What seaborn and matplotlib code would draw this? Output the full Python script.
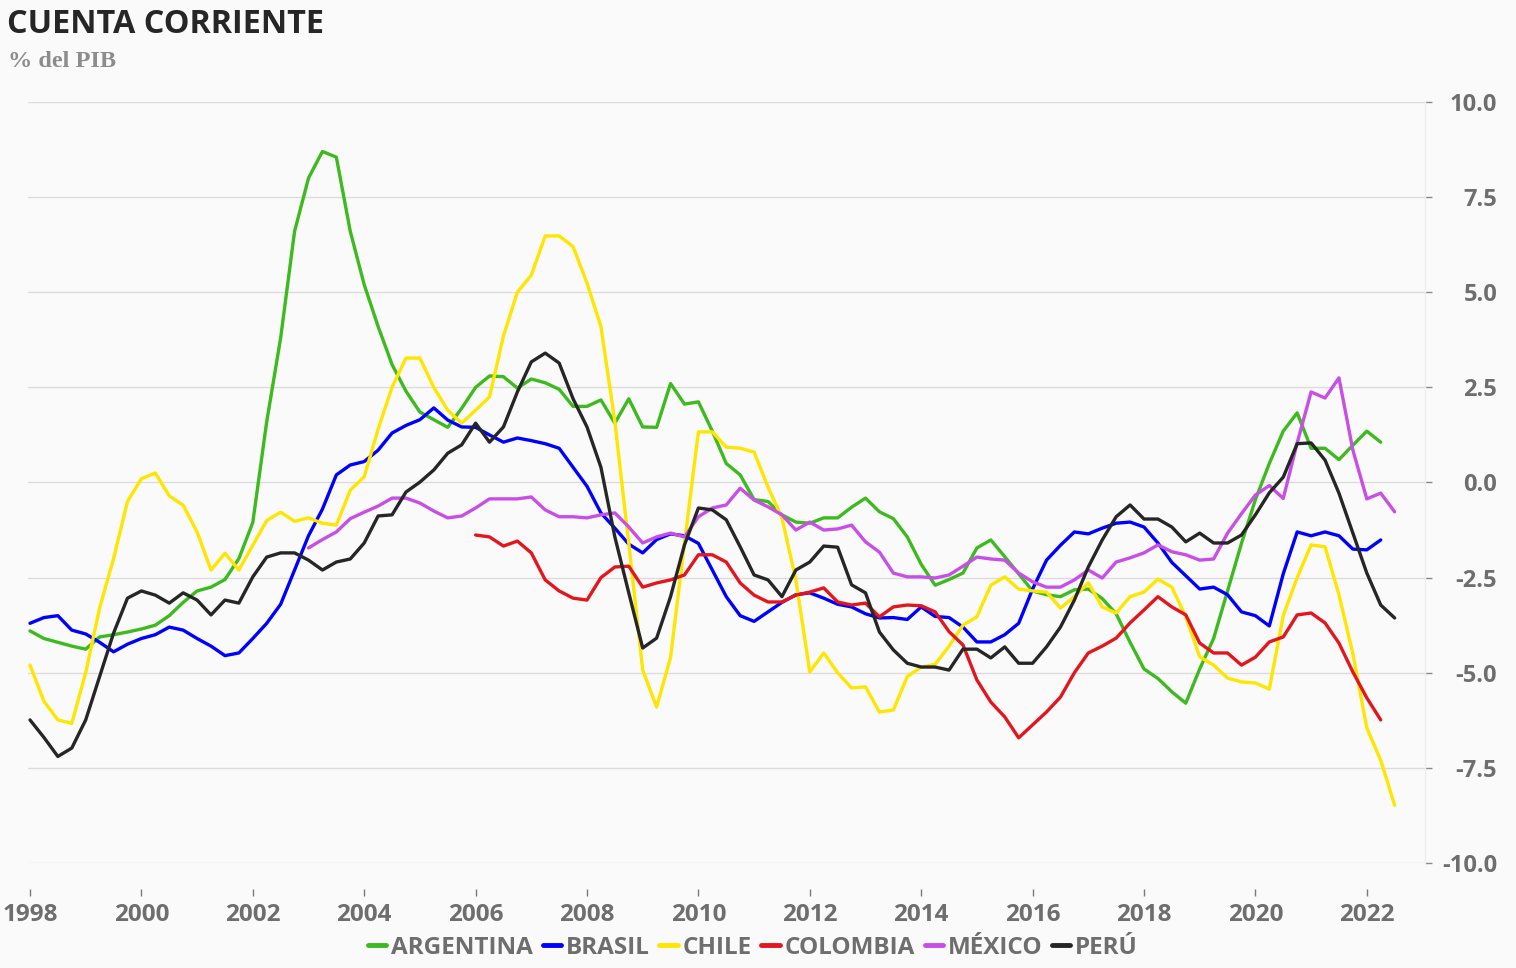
import numpy as np
import pandas as pd
import matplotlib
matplotlib.use("Agg")
import matplotlib.pyplot as plt
import seaborn as sns

# ---------------- data (quarterly, % del PIB) ----------------
countries = ["ARGENTINA", "BRASIL", "CHILE", "COLOMBIA", "MÉXICO", "PERÚ"]
colors = ["#3cba1e", "#0000ff", "#ffe600", "#e3161d", "#c84fe6", "#262626"]
first_quarter = {"ARGENTINA": 1998.0, "BRASIL": 1998.0, "CHILE": 1998.0,
                 "COLOMBIA": 2006.0, "MÉXICO": 2003.0, "PERÚ": 1998.0}

argentina = [-3.9, -4.1, -4.2, -4.3,
             -4.38, -4.06, -4.0, -3.93,
             -3.85, -3.75, -3.5, -3.15,
             -2.85, -2.75, -2.55, -2.0,
             -1.05, 1.6, 3.8, 6.6,
             8.0, 8.7, 8.55, 6.6,
             5.2, 4.1, 3.1, 2.4,
             1.85, 1.65, 1.45, 1.95,
             2.5, 2.8, 2.78, 2.48,
             2.72, 2.62, 2.45, 2.0,
             2.0, 2.17, 1.56, 2.2,
             1.46, 1.45, 2.6, 2.06,
             2.12, 1.35, 0.5, 0.2,
             -0.45, -0.5, -0.85, -1.04,
             -1.07, -0.93, -0.93, -0.65,
             -0.41, -0.77, -0.95, -1.43,
             -2.15, -2.7, -2.55, -2.38,
             -1.72, -1.51, -1.95, -2.4,
             -2.85, -2.95, -3.0, -2.82,
             -2.8, -3.05, -3.45, -4.2,
             -4.9, -5.15, -5.5, -5.8,
             -4.9, -4.1, -2.85, -1.6,
             -0.45, 0.5, 1.35, 1.83,
             0.9, 0.9, 0.6, 0.98,
             1.35, 1.06]

brasil = [-3.7, -3.55, -3.5, -3.88,
          -3.98, -4.2, -4.45, -4.25,
          -4.1, -4.0, -3.8, -3.88,
          -4.1, -4.3, -4.55, -4.48,
          -4.1, -3.7, -3.2, -2.3,
          -1.4, -0.7, 0.2, 0.46,
          0.55, 0.85, 1.3, 1.5,
          1.65, 1.96, 1.64, 1.46,
          1.45, 1.25, 1.06, 1.17,
          1.1, 1.02, 0.9, 0.4,
          -0.1, -0.8, -1.2, -1.62,
          -1.85, -1.5, -1.35, -1.4,
          -1.6, -2.3, -3.0, -3.5,
          -3.65, -3.4, -3.15, -2.95,
          -2.9, -3.04, -3.2, -3.27,
          -3.45, -3.56, -3.55, -3.6,
          -3.27, -3.52, -3.55, -3.8,
          -4.19, -4.19, -4.0, -3.7,
          -2.8, -2.04, -1.65, -1.3,
          -1.35, -1.2, -1.07, -1.04,
          -1.17, -1.59, -2.1, -2.45,
          -2.8, -2.75, -2.95, -3.4,
          -3.5, -3.77, -2.4, -1.3,
          -1.4, -1.3, -1.4, -1.75,
          -1.77, -1.51]

chile = [-4.8, -5.75, -6.24, -6.33,
         -5.0, -3.3, -2.0, -0.5,
         0.1, 0.25, -0.35, -0.6,
         -1.3, -2.3, -1.86, -2.3,
         -1.65, -1.0, -0.78, -1.02,
         -0.93, -1.07, -1.12, -0.2,
         0.15, 1.4, 2.5, 3.27,
         3.27, 2.5, 1.9, 1.56,
         1.9, 2.25, 3.85, 5.0,
         5.45, 6.48, 6.48, 6.2,
         5.24, 4.1, 1.6, -1.6,
         -4.93, -5.9, -4.6, -1.6,
         1.33, 1.33, 0.93, 0.9,
         0.8, -0.12, -0.93, -2.56,
         -4.98, -4.48, -5.0, -5.4,
         -5.37, -6.03, -5.98, -5.1,
         -4.85, -4.78, -4.3, -3.75,
         -3.53, -2.7, -2.48, -2.8,
         -2.85, -2.88, -3.3, -3.0,
         -2.64, -3.27, -3.43, -3.0,
         -2.88, -2.54, -2.75, -3.53,
         -4.58, -4.8, -5.14, -5.24,
         -5.27, -5.43, -3.5, -2.5,
         -1.64, -1.69, -2.95, -4.5,
         -6.45, -7.3, -8.48]

colombia = [-1.38, -1.43, -1.67, -1.54,
            -1.85, -2.56, -2.85, -3.04,
            -3.09, -2.5, -2.22, -2.2,
            -2.75, -2.64, -2.56, -2.43,
            -1.9, -1.9, -2.09, -2.64,
            -2.96, -3.14, -3.14, -2.96,
            -2.88, -2.77, -3.14, -3.22,
            -3.17, -3.53, -3.27, -3.22,
            -3.24, -3.4, -3.92, -4.27,
            -5.19, -5.77, -6.16, -6.71,
            -6.37, -6.03, -5.64, -5.0,
            -4.48, -4.3, -4.09, -3.69,
            -3.35, -3.0, -3.27, -3.48,
            -4.22, -4.48, -4.48, -4.8,
            -4.59, -4.19, -4.06, -3.48,
            -3.43, -3.69, -4.22, -4.98,
            -5.66, -6.24]

mexico = [-1.72, -1.5, -1.3, -0.95,
          -0.78, -0.62, -0.41, -0.41,
          -0.54, -0.75, -0.93, -0.88,
          -0.67, -0.43, -0.43, -0.43,
          -0.38, -0.72, -0.9, -0.9,
          -0.93, -0.85, -0.8, -1.17,
          -1.59, -1.43, -1.33, -1.43,
          -0.9, -0.67, -0.59, -0.15,
          -0.46, -0.64, -0.85, -1.25,
          -1.04, -1.25, -1.22, -1.12,
          -1.56, -1.83, -2.38, -2.48,
          -2.48, -2.51, -2.43, -2.2,
          -1.96, -2.01, -2.04, -2.38,
          -2.61, -2.75, -2.75, -2.56,
          -2.3, -2.51, -2.09, -1.98,
          -1.85, -1.64, -1.82, -1.9,
          -2.04, -2.01, -1.33, -0.82,
          -0.33, -0.08, -0.42, 1.04,
          2.38, 2.22, 2.75, 0.85,
          -0.43, -0.28, -0.77]

peru = [-6.24, -6.7, -7.2, -6.98,
        -6.24, -5.1, -3.96, -3.04,
        -2.85, -2.96, -3.17, -2.9,
        -3.09, -3.48, -3.09, -3.17,
        -2.48, -1.96, -1.85, -1.85,
        -2.04, -2.3, -2.09, -2.01,
        -1.59, -0.88, -0.85, -0.25,
        0.01, 0.33, 0.77, 0.99,
        1.56, 1.06, 1.46, 2.38,
        3.17, 3.4, 3.14, 2.2,
        1.46, 0.4, -1.43, -2.9,
        -4.35, -4.09, -3.0, -1.64,
        -0.67, -0.72, -0.98, -1.69,
        -2.43, -2.56, -3.0, -2.3,
        -2.09, -1.67, -1.7, -2.69,
        -2.9, -3.93, -4.4, -4.75,
        -4.85, -4.85, -4.93, -4.38,
        -4.38, -4.61, -4.32, -4.75,
        -4.75, -4.32, -3.8, -3.09,
        -2.22, -1.51, -0.9, -0.59,
        -0.96, -0.96, -1.17, -1.56,
        -1.33, -1.59, -1.59, -1.38,
        -0.85, -0.27, 0.14, 1.02,
        1.04, 0.59, -0.28, -1.33,
        -2.38, -3.22, -3.56]

series = {"ARGENTINA": argentina, "BRASIL": brasil, "CHILE": chile,
          "COLOMBIA": colombia, "MÉXICO": mexico, "PERÚ": peru}

year_ticks = list(range(1998, 2023, 2))
y_ticks = [10.0, 7.5, 5.0, 2.5, 0.0, -2.5, -5.0, -7.5, -10.0]
y_tick_labels = ["10.0", "7.5", "5.0", "2.5", "0.0", "-2.5", "-5.0", "-7.5", "-10.0"]

title = "CUENTA CORRIENTE"
subtitle = "% del PIB"

# ---------------- long-form table ----------------
rows = []
for name in countries:
    vals = series[name]
    for i, v in enumerate(vals):
        rows.append((name, first_quarter[name] + 0.25 * i, v))
df = pd.DataFrame(rows, columns=["pais", "fecha", "valor"])

# ---------------- style ----------------
sns.set_style("white")
plt.rcParams['font.family'] = ['Open Sans', 'DejaVu Sans']

W, H = 1516, 968
bg = "#fafafa"
fig = plt.figure(figsize=(W / 100, H / 100), dpi=100, facecolor=bg)
ax_left, ax_right, ax_top, ax_bottom = 28, 1425, 102, 863
ax = fig.add_axes([ax_left / W, 1 - ax_bottom / H,
                   (ax_right - ax_left) / W, (ax_bottom - ax_top) / H])
ax.set_facecolor(bg)

sns.lineplot(data=df, x="fecha", y="valor", hue="pais", hue_order=countries,
             palette=dict(zip(countries, colors)), linewidth=2.4,
             estimator=None, ax=ax)

px_per_year = 55.7
ax.set_xlim(1998 - 2 / px_per_year, 1998 + (ax_right - 30) / px_per_year)
ax.set_ylim(-10, 10)

ax.set_xlabel("")
ax.set_ylabel("")
ax.set_xticks(year_ticks)
ax.set_xticklabels([str(y) for y in year_ticks])
ax.yaxis.tick_right()
ax.set_yticks(y_ticks)
ax.set_yticklabels(y_tick_labels)

ax.grid(axis="y", color="#dcdcdc", linewidth=1.0)
ax.grid(axis="x", visible=False)
for s in ["top", "left", "bottom"]:
    ax.spines[s].set_visible(False)
ax.spines["right"].set_color("#efefef")
ax.spines["right"].set_linewidth(1.0)
ax.spines["bottom"].set_position(("outward", 19))

tick_gray = "#6e6e6e"
ax.tick_params(axis="x", bottom=True, length=5, width=1, color="#7a7a7a", pad=5,
               labelsize=17.5, labelcolor=tick_gray)
ax.tick_params(axis="y", right=True, left=False, length=5, width=1, color="#8a8a8a",
               pad=47, labelsize=17, labelcolor=tick_gray)
for lab in ax.get_xticklabels():
    lab.set_fontweight("bold")
for lab in ax.get_yticklabels():
    lab.set_fontweight("bold")
    lab.set_horizontalalignment("right")

# legend
sns.move_legend(ax, "center", bbox_to_anchor=(753 / W, 1 - 948 / H),
                bbox_transform=fig.transFigure, ncol=6, frameon=False, title="",
                fontsize=17.5, handlelength=0.75, handletextpad=0.2,
                columnspacing=0.4, borderaxespad=0)
leg = ax.get_legend()
for t in leg.get_texts():
    t.set_fontweight("bold")
    t.set_color(tick_gray)
for ln in leg.get_lines():
    ln.set_linewidth(3.5)

# titles
fig.text(7 / W, 1 - 33 / H, title, fontsize=23.3, fontweight="bold",
         color="#262626", va="baseline", ha="left")
fig.text(8 / W, 1 - 67 / H, subtitle, fontsize=17.5, fontweight="bold",
         color="#8c8c8c", va="baseline", ha="left",
         family=["Liberation Serif", "DejaVu Serif"])

fig.savefig("out.png", dpi=100, facecolor=bg)
